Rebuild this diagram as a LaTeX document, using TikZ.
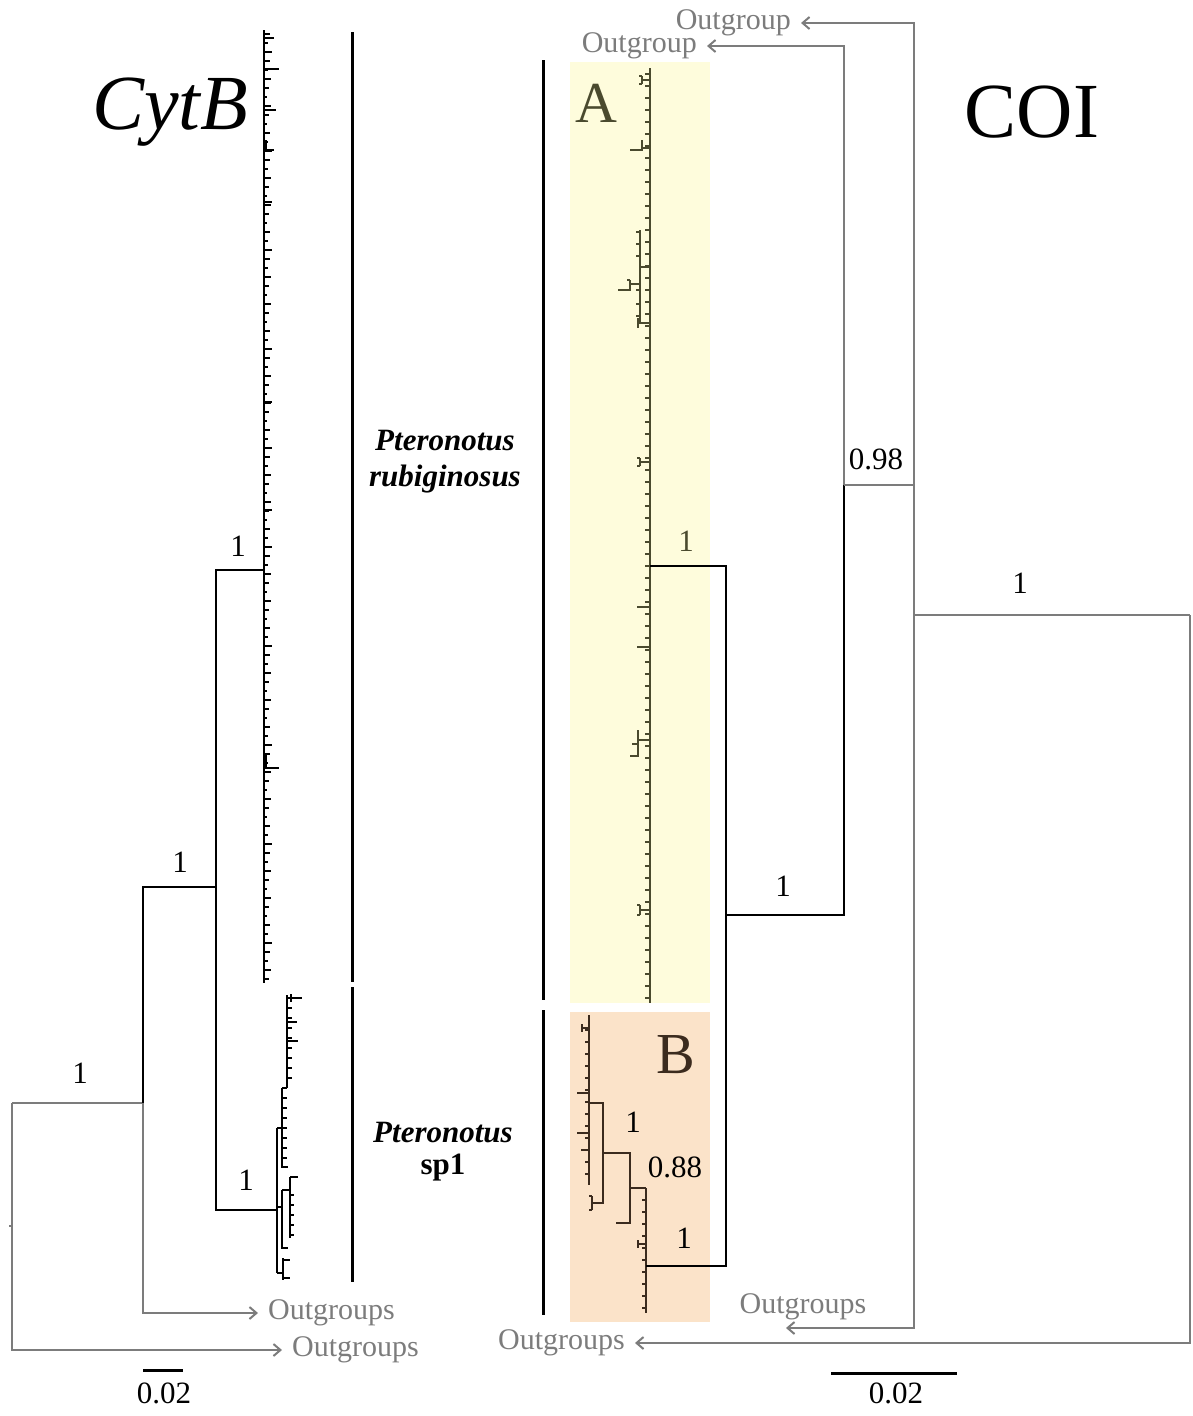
\documentclass[tikz,border=0pt]{standalone}
\usepackage{fontspec}
\setmainfont{Liberation Serif}
\usepackage{xcolor}
\usepackage{tikz}
\usetikzlibrary{arrows.meta,positioning}
\definecolor{olv}{HTML}{4A4A2E}
\definecolor{brn}{HTML}{3B2B1E}
\definecolor{gryc}{HTML}{7C7C7C}
\definecolor{yelbg}{HTML}{FEFCDC}
\definecolor{orgbg}{HTML}{FBE3C9}
\tikzset{
  br/.style={line width=2.6pt,black},
  og/.style={line width=2pt,gryc},
  oga/.style={og,shorten >=4pt,-{Straight Barb[length=7pt,width=12pt,line width=2pt]}},
  tk/.style={line width=1.8pt},
  bar/.style={line width=3pt,black},
  lab/.style={font=\fontsize{31}{33}\selectfont},
  ogt/.style={font=\fontsize{30}{32}\selectfont,text=gryc,inner sep=6pt},
  big/.style={font=\fontsize{78}{80}\selectfont}
}
\begin{document}
\begin{tikzpicture}[x=1pt,y=-1pt]
\useasboundingbox (0,0) rectangle (1192,1416);
% titles
\node[big,font=\fontsize{78}{80}\itshape] (tcyt) at (170,112) {CytB};
\node[big] (tcoi) at (1032,112) {COI};
% left tree, CytB
\coordinate (n0) at (12,1103);
\coordinate (l1) at (143,1103);
\coordinate (n1) at (143,887);
\coordinate (n2) at (216,887);
\coordinate (rub) at (264,570);
\coordinate (sp) at (277,1210);
\node[ogt,right] (og1) at (262,1313) {Outgroups};
\node[ogt,right] (og2) at (286,1350) {Outgroups};
\draw[og] (l1) -- (n0);
\draw[oga] (n0) |- (og2.west);
\draw[oga] (l1) |- (og1.west);
\draw[og] (12,1226) -- ++(-3,0);
\draw[br] (l1) -- (n1) -- (n2);
\draw[br] (rub) -| (n2) |- (sp);
\node[lab] at (238,546) {1};
\node[lab] at (180,862) {1};
\node[lab] at (80,1073) {1};
\node[lab] at (246,1180) {1};
\draw[tk] (264,30) -- (264,983);
\foreach \y [count=\i] in {34,43,...,980}
  {\pgfmathsetmacro\len{3+mod(\i*7,11)*0.45}
   \draw[tk,line width=1.4pt] (264,\y) -- ++(\len,0);}
\draw[tk] (264,38) -- ++(10,0) (264,69) -- ++(15,0) (264,110) -- ++(12,0)
  (264,202) -- ++(8,0) (264,402) -- ++(8,0) (264,510) -- ++(8,0);
\draw[tk] (266,140) -- ++(0,10) -- ++(8,0) (266,753) -- ++(0,15) -- ++(13,0);
% sp1 clade
\draw[tk] (277,1128) -- (277,1273);
\draw[tk] (277,1128) -- (282,1128) (282,1088) -- (282,1167) -- (288,1167);
\draw[tk] (282,1088) -- (287,1088) (287,995) -- (287,1088);
\draw[tk] (287,998) -- ++(15,0) (291,994) -- ++(0,8);
\foreach \y in {1008,1018,1028,1038,1048,1058,1068,1078}
  \draw[tk,line width=1.4pt] (287,\y) -- ++(5,0);
\draw[tk] (287,1022) -- ++(10,0) (287,1041) -- ++(11,0);
\foreach \y in {1098,1108,1118,1128,1138,1148,1158}
  \draw[tk,line width=1.4pt] (282,\y) -- ++(5,0);
\draw[tk] (277,1207) -- (282,1207) (282,1190) -- (282,1248) -- (288,1248);
\draw[tk] (282,1190) -- (290,1190) (290,1177) -- (290,1238);
\draw[tk] (290,1177) -- ++(8,0);
\foreach \y in {1195,1205,1215,1225,1235}
  \draw[tk,line width=1.4pt] (290,\y) -- ++(4,0);
\draw[tk] (277,1273) -- (283,1273) (283,1258) -- (283,1280);
\draw[tk] (283,1260) -- ++(7,0) (283,1278) -- ++(7,0);
% species bars
\draw[bar] (352,32) -- (352,982);
\draw[bar] (352,987) -- (352,1282);
\draw[bar] (543,60) -- (543,1000);
\draw[bar] (543,1010) -- (543,1315);
\node[font=\fontsize{31}{36}\selectfont\bfseries\itshape,align=center] (trub) at (445,462) {Pteronotus\\rubiginosus};
\node[font=\fontsize{31}{32}\selectfont\bfseries,align=center] (tsp) at (443,1152) {\textit{Pteronotus}\\sp1};
% right tree, COI
\fill[yelbg] (570,62) rectangle (710,1003);
\fill[orgbg] (570,1012) rectangle (710,1322);
\node[font=\fontsize{58}{60}\selectfont,text=olv] (tA) at (596,103) {A};
\node[font=\fontsize{58}{60}\selectfont,text=brn] (tB) at (676,1055) {B};
\draw[tk,olv] (650,68) -- (650,1003);
\foreach \y in {74,86,...,998}
  \draw[olv,line width=1.5pt] (650,\y) -- ++(-5,0);
\draw[olv,line width=1.5pt] (650,80) -- (642,80) (642,76) -- (642,84) (642,76) -- ++(-3,0) (642,84) -- ++(-3,0);
\draw[olv,line width=1.5pt] (650,148) -- (642,148) (642,140) -- (642,150) -- ++(-12,0);
\draw[olv,line width=1.5pt] (650,267) -- (640,267) (640,230) -- (640,323);
\foreach \y in {232,244,256,290,304,316}
  \draw[olv,line width=1.5pt] (640,\y) -- ++(-4,0);
\draw[olv,line width=1.5pt] (640,284) -- (630,284) (630,280) -- (630,290) -- ++(-12,0) (630,280) -- ++(-3,0);
\draw[olv,line width=1.5pt] (650,323) -- (638,323) (638,318) -- (638,328);
\draw[olv,line width=1.5pt] (650,462) -- (640,462) (640,458) -- (640,466) (640,458) -- ++(-3,0) (640,466) -- ++(-3,0);
\draw[olv,line width=1.5pt] (650,607) -- ++(-13,0) (650,647) -- ++(-13,0);
\draw[olv,line width=1.5pt] (650,740) -- (638,740) (638,730) -- (638,756) -- ++(-8,0) (638,744) -- ++(-6,0);
\draw[olv,line width=1.5pt] (650,910) -- (640,910) (640,905) -- (640,915) (640,905) -- ++(-3,0) (640,915) -- ++(-3,0);
% clade B
\draw[tk,brn] (589,1015) -- (589,1185);
\foreach \y in {1030,1042,...,1182}
  \draw[brn,line width=1.5pt] (589,\y) -- ++(-4,0);
\draw[brn,line width=1.5pt] (589,1028) -- (582,1028) (582,1024) -- (582,1032)
  (589,1093) -- ++(-12,0) (589,1133) -- ++(-12,0) (589,1150) -- ++(-8,0);
\coordinate (b1) at (603,1103);
\coordinate (b2) at (630,1153);
\coordinate (b3) at (646,1188);
\coordinate (cb) at (646,1266);
\coordinate (ca) at (650,566);
\draw[br,brn] (589,1103) -- (b1) -- (603,1203) -- (592,1203);
\draw[brn,line width=1.5pt] (592,1196) -- (592,1210) (592,1196) -- ++(-3,0) (592,1210) -- ++(-3,0);
\draw[br,brn] (b1 |- b2) -- (b2) -- (630,1223) -- (616,1223);
\draw[br,brn] (b2 |- b3) -- (b3);
\draw[tk,brn] (b3) -- (646,1313);
\foreach \y in {1200,1212,...,1310}
  \draw[brn,line width=1.5pt] (646,\y) -- ++(-4,0);
\draw[brn,line width=1.5pt] (646,1244) -- (638,1244) (638,1240) -- (638,1248);
\node[lab] at (633,1122) {1};
\node[lab] at (675,1167) {0.88};
\node[lab] at (684,1238) {1};
% backbone
\coordinate (nA) at (726,915);
\coordinate (nB) at (844,915);
\coordinate (nC) at (844,485);
\coordinate (nD) at (914,485);
\coordinate (nE) at (914,615);
\coordinate (nF) at (1190,615);
\draw[br] (ca) -| (nA) |- (cb);
\draw[br] (nA) -- (nB) -- (nC);
\node[lab,text=olv] at (686,541) {1};
\node[lab] at (783,886) {1};
\node[lab] at (876,459) {0.98};
\node[lab] at (1020,583) {1};
\node[ogt,left] (og3) at (703,46) {Outgroup};
\node[ogt,left] (og4) at (797,23) {Outgroup};
\coordinate (t5) at (782,1328);
\node[ogt] (og5) at (803,1307) {Outgroups};
\node[ogt,left] (og6) at (631,1343) {Outgroups};
\draw[oga] (nC) |- (og3.east);
\draw[og] (nC) -- (nD);
\draw[oga] (nD) |- (og4.east);
\draw[oga] (nD) |- (t5);
\draw[og] (nE) -- (nF);
\draw[oga] (nF) |- (og6.east);
% scale bars
\draw[bar] (143,1370) -- (183,1370);
\node[lab] (s1) at (164,1393) {0.02};
\draw[bar] (831,1373) -- (957,1373);
\node[lab] (s2) at (896,1393) {0.02};
\end{tikzpicture}
\end{document}
